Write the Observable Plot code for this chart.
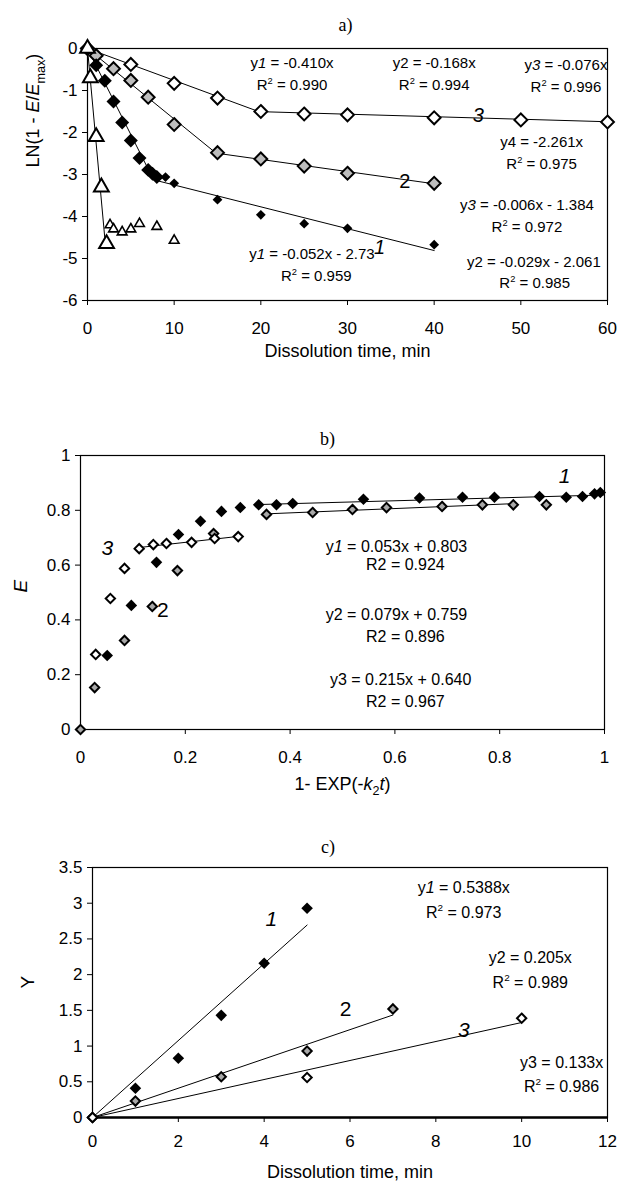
<!DOCTYPE html>
<html><head><meta charset="utf-8">
<script src="https://cdn.jsdelivr.net/npm/d3@7"></script>
<script src="https://cdn.jsdelivr.net/npm/@observablehq/plot@0.6"></script>
<style>
body{margin:0;background:#fff;width:618px;height:1189px;overflow:hidden;position:relative}
.panel{position:absolute;left:0}
</style></head><body>
<div id="a" class="panel" style="top:0"></div>
<div id="b" class="panel" style="top:375px"></div>
<div id="c" class="panel" style="top:800px"></div>
<script>
// ---------- Panel a data ----------
const aXTicks = [0,10,20,30,40,50,60];
const aYTicks = [0,-1,-2,-3,-4,-5,-6];
const aTime3 = [0,5,10,15,20,25,30,40,50,60];
const aLn3   = [0,-0.38,-0.83,-1.18,-1.50,-1.56,-1.58,-1.65,-1.70,-1.75];
const aTime2 = [0,1,3,5,7,10,15,20,25,30,40];
const aLn2   = [0,-0.17,-0.48,-0.76,-1.16,-1.81,-2.48,-2.63,-2.80,-2.97,-3.21];
const aTime1 = [0,1,2,3,4,5,6,7,7.5,8];
const aLn1   = [0,-0.40,-0.77,-1.26,-1.76,-2.19,-2.61,-2.89,-2.98,-3.06];
const aTime1b = [9,10,15,20,25,30,40];
const aLn1b   = [-3.06,-3.21,-3.60,-3.96,-4.17,-4.28,-4.67];
const aTime4 = [0,0.33,1,1.6,2.2];
const aLn4   = [0,-0.70,-2.10,-3.30,-4.65];
const aTime4b = [2.6,3,4,5,6,8,10];
const aLn4b   = [-4.20,-4.30,-4.37,-4.30,-4.17,-4.24,-4.57];
const aFits = [
  {id:"3a", from:0,   to:20,  slope:-0.076, intercept:0},
  {id:"3b", from:20,  to:60,  slope:-0.006, intercept:-1.384},
  {id:"2a", from:0,   to:15,  slope:-0.168, intercept:0},
  {id:"2b", from:15,  to:40,  slope:-0.029, intercept:-2.061},
  {id:"1a", from:0,   to:7.6, slope:-0.410, intercept:0},
  {id:"1b", from:7.6, to:40,  slope:-0.052, intercept:-2.73},
  {id:"4",  from:0,   to:2.05,slope:-2.261, intercept:0}
];
const aNotes = [
  {x:23.6, y:-0.35, s:"y<i>1</i> = -0.410x"},
  {x:23.6, y:-0.87, s:"R<sup>2</sup> = 0.990"},
  {x:40.0, y:-0.35, s:"y2 = -0.168x"},
  {x:40.0, y:-0.87, s:"R<sup>2</sup> = 0.994"},
  {x:55.2, y:-0.40, s:"y<i>3</i> = -0.076x"},
  {x:55.2, y:-0.93, s:"R<sup>2</sup> = 0.996"},
  {x:52.4, y:-2.23, s:"y4 = -2.261x"},
  {x:52.4, y:-2.76, s:"R<sup>2</sup> = 0.975"},
  {x:50.7, y:-3.73, s:"y<i>3</i> = -0.006x - 1.384"},
  {x:50.7, y:-4.25, s:"R<sup>2</sup> = 0.972"},
  {x:25.9, y:-4.90, s:"y<i>1</i> = -0.052x - 2.73"},
  {x:26.4, y:-5.42, s:"R<sup>2</sup> = 0.959"},
  {x:51.5, y:-5.09, s:"y2 = -0.029x - 2.061"},
  {x:51.6, y:-5.59, s:"R<sup>2</sup> = 0.985"}
];
const aCurveLabels = [
  {x:45.1, y:-1.59, s:"<i>3</i>"},
  {x:36.6, y:-3.16, s:"2"},
  {x:33.7, y:-4.75, s:"<i>1</i>"}
];

// ---------- Panel b data ----------
const bXTicks = [0,0.2,0.4,0.6,0.8,1];
const bYTicks = [0,0.2,0.4,0.6,0.8,1];
const bX1 = [0.051,0.097,0.145,0.187,0.229,0.269,0.305,0.340,0.374,0.405,0.540,0.647,0.729,0.790,0.876,0.927,0.958,0.981,0.992];
const bE1 = [0.270,0.453,0.610,0.712,0.760,0.796,0.810,0.820,0.820,0.825,0.840,0.845,0.848,0.848,0.850,0.848,0.850,0.860,0.865];
const bX2 = [0,0.027,0.084,0.137,0.185,0.254,0.355,0.443,0.519,0.584,0.690,0.767,0.826,0.889];
const bE2 = [0,0.153,0.325,0.449,0.580,0.715,0.785,0.792,0.803,0.810,0.814,0.820,0.820,0.820];
const bX3 = [0.029,0.057,0.084,0.112,0.139,0.164,0.212,0.256,0.301];
const bE3 = [0.274,0.478,0.588,0.660,0.675,0.679,0.683,0.697,0.704];
const bFits = [
  {id:"1", from:0.340, to:1,     slope:0.053, intercept:0.803},
  {id:"2", from:0.355, to:0.826, slope:0.079, intercept:0.759},
  {id:"3", from:0.112, to:0.301, slope:0.215, intercept:0.640}
];
const bNotes = [
  {x:0.603, y:0.668, s:"y<i>1</i> = 0.053x + 0.803"},
  {x:0.620, y:0.599, s:"R2 = 0.924"},
  {x:0.603, y:0.420, s:"y2 = 0.079x + 0.759"},
  {x:0.620, y:0.339, s:"R2 = 0.896"},
  {x:0.611, y:0.182, s:"y3 = 0.215x + 0.640"},
  {x:0.620, y:0.102, s:"R2 = 0.967"}
];
const bCurveLabels = [
  {x:0.051, y:0.662, s:"<i>3</i>"},
  {x:0.157, y:0.434, s:"2"},
  {x:0.924, y:0.923, s:"<i>1</i>"}
];

// ---------- Panel c data ----------
const cXTicks = [0,2,4,6,8,10,12];
const cYTicks = [0,0.5,1,1.5,2,2.5,3,3.5];
const cT1 = [0,1,2,3,4,5];
const cY1 = [0,0.41,0.83,1.43,2.16,2.93];
const cT2 = [0,1,3,5,7];
const cY2 = [0,0.23,0.57,0.93,1.52];
const cT3 = [0,5,10];
const cY3 = [0,0.56,1.39];
const cFits = [
  {id:"1", from:0, to:5,  slope:0.5388, intercept:0},
  {id:"2", from:0, to:7,  slope:0.205,  intercept:0},
  {id:"3", from:0, to:10, slope:0.133,  intercept:0}
];
const cNotes = [
  {x:8.65,  y:3.22, s:"y<i>1</i> = 0.5388x"},
  {x:8.65,  y:2.87, s:"R<sup>2</sup> = 0.973"},
  {x:10.2,  y:2.24, s:"y2 = 0.205x"},
  {x:10.2,  y:1.89, s:"R<sup>2</sup> = 0.989"},
  {x:10.93, y:0.76, s:"y3 = 0.133x"},
  {x:10.93, y:0.43, s:"R<sup>2</sup> = 0.986"}
];
const cCurveLabels = [
  {x:4.17, y:2.77, s:"<i>1</i>"},
  {x:5.9,  y:1.51, s:"2"},
  {x:8.65, y:1.22, s:"<i>3</i>"}
];

// ---------- helpers ----------
const zip = (xs, ys) => xs.map((x, i) => ({x, y: ys[i]}));
const fitPoints = fits => fits.flatMap(f => [
  {id: f.id, x: f.from, y: f.slope * f.from + f.intercept},
  {id: f.id, x: f.to,   y: f.slope * f.to   + f.intercept}
]);
const strip = s => s.replace(/<[^>]+>/g, "");
function richMarkup(s, fs) {
  const parts = s.split(/(<(?:i|sup|sub)>.*?<\/(?:i|sup|sub)>)/).filter(p => p !== "");
  let cur = 0, out = "";
  for (const p of parts) {
    const m = p.match(/^<(i|sup|sub)>(.*?)<\/\1>$/);
    let target = 0, attrs = "", txt = p;
    if (m) {
      txt = m[2];
      if (m[1] === "i") attrs = ' font-style="italic"';
      if (m[1] === "sup") { target = -0.42 * fs; attrs = ` font-size="${0.62 * fs}"`; }
      if (m[1] === "sub") { target = 0.3 * fs; attrs = ` font-size="${0.7 * fs}"`; }
    }
    const dy = target - cur; cur = target;
    out += `<tspan${dy ? ` dy="${dy}"` : ""}${attrs}>${txt}</tspan>`;
  }
  return out;
}
const richStore = new Map();
function richText(data, opts) {
  const fs = opts.fontSize;
  for (const d of data) richStore.set(strip(d.s) + "|" + fs, d.s);
  return Plot.text(data, {x: "x", y: "y", text: d => strip(d.s), ...opts});
}
function applyRich(svg) {
  svg.querySelectorAll("text").forEach(t => {
    const g = t.closest("g[font-size]");
    const fs = g ? parseFloat(g.getAttribute("font-size")) : NaN;
    const key = t.textContent + "|" + fs;
    if (richStore.has(key) && !t.closest("g[aria-label*='axis']")) {
      t.setAttribute("xml:space", "preserve");
      t.innerHTML = richMarkup(richStore.get(key), fs);
    }
  });
}
const FONT = "'Liberation Sans', Arial, sans-serif";
const SERIF = "'Liberation Serif', 'Times New Roman', serif";
const baseStyle = {fontFamily: FONT, fontSize: "17px", color: "#000", background: "white", overflow: "visible"};
const fmt = d => `${d}`;

// ---------- Panel a ----------
const pa = Plot.plot({
  width: 618, height: 375,
  marginTop: 48, marginBottom: 75, marginLeft: 87, marginRight: 11,
  style: baseStyle,
  x: {domain: [0, 60], ticks: aXTicks, tickFormat: fmt, tickSize: 5, tickPadding: 16, label: null},
  y: {domain: [-6, 0], ticks: aYTicks, tickFormat: fmt, tickSize: 5, tickPadding: 5, label: null},
  marks: [
    Plot.frame({stroke: "#000", strokeWidth: 1.2}),
    Plot.line(fitPoints(aFits), {x: "x", y: "y", z: "id", stroke: "#000", strokeWidth: 1}),
    Plot.dot(zip(aTime3, aLn3), {x: "x", y: "y", symbol: "diamond2", r: 5.8, fill: "white", stroke: "#000", strokeWidth: 2}),
    Plot.dot(zip(aTime2, aLn2), {x: "x", y: "y", symbol: "diamond2", r: 5.8, fill: "#bdbdbd", stroke: "#000", strokeWidth: 2}),
    Plot.dot(zip(aTime1, aLn1), {x: "x", y: "y", symbol: "diamond2", r: 6.3, fill: "#000"}),
    Plot.dot(zip(aTime1b, aLn1b), {x: "x", y: "y", symbol: "diamond2", r: 4.4, fill: "#000"}),
    Plot.dot(zip(aTime4, aLn4), {x: "x", y: "y", symbol: "triangle", r: 5.5, fill: "white", stroke: "#000", strokeWidth: 2}),
    Plot.dot(zip(aTime4b, aLn4b), {x: "x", y: "y", symbol: "triangle", r: 3.6, fill: "white", stroke: "#000", strokeWidth: 1.6}),
    richText(aNotes, {fontSize: 15}),
    richText(aCurveLabels, {fontSize: 20}),
    Plot.text(["a)"], {text: d => d, frameAnchor: "top", dx: -2, dy: -30, fontFamily: SERIF, fontSize: 18}),
    Plot.text(["Dissolution time, min"], {text: d => d, frameAnchor: "bottom", dy: 56, fontSize: 18}),
    richText([{s: "LN(1 - <i>E</i>/<i>E</i><sub>max</sub>)"}], {x: null, y: null, frameAnchor: "left", dx: -54, dy: -7, rotate: -90, fontSize: 18})
  ]
});
applyRich(pa);
document.getElementById("a").append(pa);

// ---------- Panel b ----------
const pb = Plot.plot({
  width: 618, height: 425,
  marginTop: 80, marginBottom: 71, marginLeft: 80, marginRight: 14,
  style: baseStyle,
  x: {domain: [0, 1], ticks: bXTicks, tickFormat: fmt, tickSize: 5, tickPadding: 16, label: null},
  y: {domain: [0, 1], ticks: bYTicks, tickFormat: fmt, tickSize: 5, tickPadding: 5, label: null},
  marks: [
    Plot.frame({stroke: "#000", strokeWidth: 1.2}),
    Plot.line(fitPoints(bFits), {x: "x", y: "y", z: "id", stroke: "#000", strokeWidth: 1}),
    Plot.dot(zip(bX1, bE1), {x: "x", y: "y", symbol: "diamond2", r: 5.2, fill: "#000"}),
    Plot.dot(zip(bX2, bE2), {x: "x", y: "y", symbol: "diamond2", r: 4.2, fill: "#a8a8a8", stroke: "#000", strokeWidth: 2}),
    Plot.dot(zip(bX3, bE3), {x: "x", y: "y", symbol: "diamond2", r: 4.2, fill: "white", stroke: "#000", strokeWidth: 2}),
    richText(bNotes, {fontSize: 16}),
    richText(bCurveLabels, {fontSize: 21}),
    Plot.text(["b)"], {text: d => d, frameAnchor: "top", dx: -15, dy: -23, fontFamily: SERIF, fontSize: 18}),
    richText([{s: "1- EXP(-<i>k</i><sub>2</sub><i>t</i>)"}], {x: null, y: null, frameAnchor: "bottom", dy: 60, fontSize: 18}),
    richText([{s: "<i>E</i>"}], {x: null, y: null, frameAnchor: "left", dx: -60, rotate: -90, fontSize: 19})
  ]
});
applyRich(pb);
document.getElementById("b").append(pb);

// ---------- Panel c ----------
const pc = Plot.plot({
  width: 618, height: 389,
  marginTop: 67, marginBottom: 72, marginLeft: 92, marginRight: 11,
  style: baseStyle,
  x: {domain: [0, 12], ticks: cXTicks, tickFormat: fmt, tickSize: 5, tickPadding: 12, label: null},
  y: {domain: [0, 3.5], ticks: cYTicks, tickFormat: fmt, tickSize: 5, tickPadding: 5, label: null},
  marks: [
    Plot.frame({stroke: "#000", strokeWidth: 1.2}),
    Plot.ruleY([0], {stroke: "#000", strokeWidth: 2.5}),
    Plot.line(fitPoints(cFits), {x: "x", y: "y", z: "id", stroke: "#000", strokeWidth: 1}),
    Plot.dot(zip(cT1, cY1), {x: "x", y: "y", symbol: "diamond2", r: 5.2, fill: "#000"}),
    Plot.dot(zip(cT2, cY2), {x: "x", y: "y", symbol: "diamond2", r: 4.2, fill: "#a8a8a8", stroke: "#000", strokeWidth: 2}),
    Plot.dot(zip(cT3, cY3), {x: "x", y: "y", symbol: "diamond2", r: 4.2, fill: "white", stroke: "#000", strokeWidth: 2}),
    richText(cNotes, {fontSize: 16}),
    richText(cCurveLabels, {fontSize: 21}),
    Plot.text(["c)"], {text: d => d, frameAnchor: "top", dx: -22, dy: -27, fontFamily: SERIF, fontSize: 18}),
    Plot.text(["Dissolution time, min"], {text: d => d, frameAnchor: "bottom", dy: 60, fontSize: 18}),
    Plot.text(["Y"], {text: d => d, frameAnchor: "left", dx: -65, dy: -4, rotate: -90, fontSize: 19})
  ]
});
applyRich(pc);
document.getElementById("c").append(pc);
</script>
</body></html>
